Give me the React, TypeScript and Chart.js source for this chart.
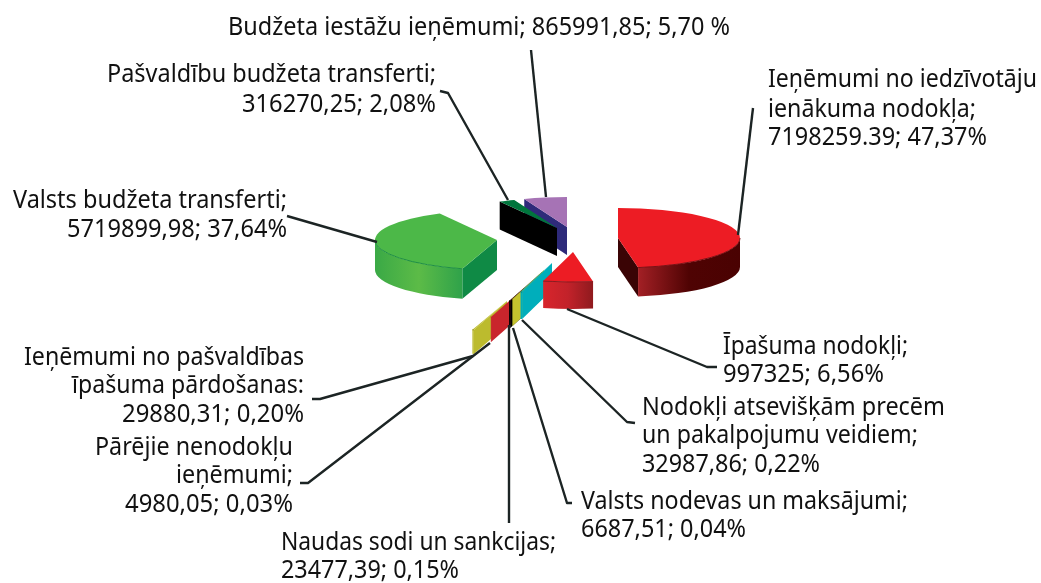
import React, { useEffect, useRef } from "react";
import { Chart, registerables } from "chart.js";

Chart.register(...registerables);

// ---- data ----
const categories = [
  "Ieņēmumi no iedzīvotāju ienākuma nodokļa",
  "Īpašuma nodokļi",
  "Nodokļi atsevišķām precēm un pakalpojumu veidiem",
  "Valsts nodevas un maksājumi",
  "Naudas sodi un sankcijas",
  "Pārējie nenodokļu ieņēmumi",
  "Ieņēmumi no pašvaldības īpašuma pārdošanas",
  "Valsts budžeta transferti",
  "Pašvaldību budžeta transferti",
  "Budžeta iestāžu ieņēmumi",
];
const values = [
  7198259.39, 997325, 32987.86, 6687.51, 23477.39, 4980.05, 29880.31, 5719899.98, 316270.25, 865991.85,
];

// ---- slice styles ----
const topColors = ["#ed1c24", "#ed1c24", "#00a9b5", "#c4c22e", "#111111", "#c9252c", "#bcbb2e", "#4cb848", "#00753c", "#a673b5"];
const cutColors = ["#3a0405", "#b01e24", "#00aebb", "#c4c22e", "#000000", "#c9252c", "#bcbb2e", "#0f8a45", "#000000", "#2e2a7a"];
const wallStops = [
  ["#a32025", "#4f0303", "#4a0202"],
  ["#d8252c", "#c2222a", "#8f1a1e"],
  ["#00aebb", "#00aebb", "#00aebb"],
  ["#c4c22e", "#c4c22e", "#c4c22e"],
  ["#000000", "#000000", "#000000"],
  ["#c9252c", "#c9252c", "#c9252c"],
  ["#bcbb2e", "#bcbb2e", "#bcbb2e"],
  ["#3aa946", "#5cbb47", "#2fa24a"],
  ["#000000", "#000000", "#000000"],
  ["#2e2a7a", "#2e2a7a", "#2e2a7a"],
];
const rimColors = ["#7a1014", "#8b1a1e", "#007f88", "#8f8d20", "#000000", "#8b1a1e", "#8f8d20", "#1e8e44", "#00753c", "#2e2a7a"];
const explodeOffsets = [
  [47, -2], [2, 12], [-19, 23], [-27, 30], [-29, 32], [-47, 48], [-64, 61], [-74, 0], [-14, -12], [-4, -13],
];
const sliceDepths = [29, 27, 27, 27, 27, 25, 24, 30, 28, 28];
const paintOrder = [9, 8, 7, 0, 6, 5, 4, 3, 2, 1];
const SQUASH = 0.246;
const PIE_RADIUS = 122;

// ---- labels ----
const labelLines: [string, number, number, number][] = [
  ["Budžeta iestāžu ieņēmumi; 865991,85; 5,70 %", 228, 730, 35],
  ["Pašvaldību budžeta transferti;", 107, 436, 82],
  ["316270,25; 2,08%", 242, 436, 112],
  ["Valsts budžeta transferti;", 13, 287, 208],
  ["5719899,98; 37,64%", 67, 287, 237],
  ["Ieņēmumi no iedzīvotāju", 768, 1037, 87],
  ["ienākuma nodokļa;", 768, 976, 117],
  ["7198259.39; 47,37%", 768, 987, 145],
  ["Īpašuma nodokļi;", 723, 908, 354],
  ["997325; 6,56%", 723, 884, 382],
  ["Nodokļi atsevišķām precēm", 642, 945, 415],
  ["un pakalpojumu veidiem;", 642, 918, 443],
  ["32987,86; 0,22%", 642, 820, 472],
  ["Valsts nodevas un maksājumi;", 581, 908, 509],
  ["6687,51; 0,04%", 581, 746, 537],
  ["Naudas sodi un sankcijas;", 281, 556, 550],
  ["23477,39; 0,15%", 281, 459, 578],
  ["Ieņēmumi no pašvaldības", 24, 304, 365],
  ["īpašuma pārdošanas:", 72, 304, 393],
  ["29880,31; 0,20%", 122, 304, 422],
  ["Pārējie nenodokļu", 95, 293, 455],
  ["ieņēmumi;", 176, 293, 483],
  ["4980,05; 0,03%", 125, 293, 512],
];
const leaderLines: number[][][] = [
  [[531, 50], [546, 197]],
  [[440, 91], [448, 93], [508, 200]],
  [[287, 216], [377, 242]],
  [[753, 108], [738, 235]],
  [[567, 309], [707, 367], [717, 367]],
  [[522, 320], [627, 422], [635, 423]],
  [[513, 328], [567, 503], [572, 503]],
  [[509, 325], [509, 523]],
  [[490, 343], [308, 483], [300, 483]],
  [[473, 356], [320, 399], [312, 399]],
];

const pie3d = {
  id: "pie3d",
  beforeDatasetDraw(chart: any, args: any) {
    const ctx: CanvasRenderingContext2D = chart.ctx;
    const arcs = args.meta.data;
    for (const i of paintOrder) {
      const arc = arcs[i];
      const R = arc.outerRadius;
      const a0 = arc.startAngle;
      const a1 = arc.endAngle;
      const cx = arc.x + explodeOffsets[i][0];
      const cy = arc.y + explodeOffsets[i][1];
      const ry = R * SQUASH;
      const d = sliceDepths[i];
      const pt = (a: number) => [cx + R * Math.cos(a), cy + ry * Math.sin(a)];
      const cutFace = (a: number) => {
        const [px, py] = pt(a);
        ctx.beginPath();
        ctx.moveTo(cx, cy);
        ctx.lineTo(px, py);
        ctx.lineTo(px, py + d);
        ctx.lineTo(cx, cy + d);
        ctx.closePath();
        ctx.fillStyle = cutColors[i];
        ctx.fill();
      };
      if (Math.cos(a0) < 0) cutFace(a0);
      if (Math.cos(a1) > 0) cutFace(a1);
      const w0 = Math.max(a0, 0);
      const w1 = Math.min(a1, Math.PI);
      if (w1 > w0) {
        const x0 = pt(w1)[0];
        const x1 = pt(w0)[0];
        const g = ctx.createLinearGradient(x0, 0, x1, 0);
        g.addColorStop(0, wallStops[i][0]);
        g.addColorStop(0.5, wallStops[i][1]);
        g.addColorStop(1, wallStops[i][2]);
        ctx.beginPath();
        ctx.ellipse(cx, cy, R, ry, 0, w0, w1);
        ctx.ellipse(cx, cy + d, R, ry, 0, w1, w0, true);
        ctx.closePath();
        ctx.fillStyle = g;
        ctx.fill();
      }
      ctx.save();
      ctx.translate(cx, cy);
      ctx.scale(1, SQUASH);
      ctx.translate(-arc.x, -arc.y);
      arc.draw(ctx);
      ctx.restore();
      if (w1 > w0) {
        ctx.beginPath();
        ctx.ellipse(cx, cy, R, ry, 0, w0, w1);
        ctx.strokeStyle = rimColors[i];
        ctx.lineWidth = 1;
        ctx.stroke();
      }
    }
    return false;
  },
  afterDraw(chart: any) {
    const ctx: CanvasRenderingContext2D = chart.ctx;
    ctx.save();
    ctx.strokeStyle = "#1c2424";
    ctx.lineWidth = 2.4;
    ctx.lineJoin = "round";
    for (const line of leaderLines) {
      ctx.beginPath();
      line.forEach(([x, y], k) => (k ? ctx.lineTo(x, y) : ctx.moveTo(x, y)));
      ctx.stroke();
    }
    ctx.fillStyle = "#111111";
    ctx.font = '26px "Noto Sans"';
    ctx.textAlign = "left";
    ctx.textBaseline = "alphabetic";
    for (const [text, left, right, base] of labelLines) {
      ctx.fillText(text, left, base, right - left);
    }
    ctx.restore();
  },
};

export default function App() {
  const ref = useRef<HTMLCanvasElement>(null);
  useEffect(() => {
    const chart = new Chart(ref.current!, {
      type: "pie",
      data: {
        labels: categories,
        datasets: [{ data: values, backgroundColor: topColors, borderWidth: 0 }],
      },
      options: {
        responsive: false,
        animation: false,
        radius: PIE_RADIUS,
        rotation: 0,
        layout: { padding: { left: 101, bottom: 103 } },
        plugins: { legend: { display: false }, tooltip: { enabled: false }, title: { display: false } },
      } as any,
      plugins: [pie3d],
    });
    return () => chart.destroy();
  }, []);
  return (
    <div style={{ position: "absolute", left: 0, top: 0, width: 1041, height: 583, background: "#fff", overflow: "hidden" }}>
      <canvas ref={ref} width={1041} height={583} style={{ display: "block", filter: "blur(0.4px)" }} />
    </div>
  );
}
